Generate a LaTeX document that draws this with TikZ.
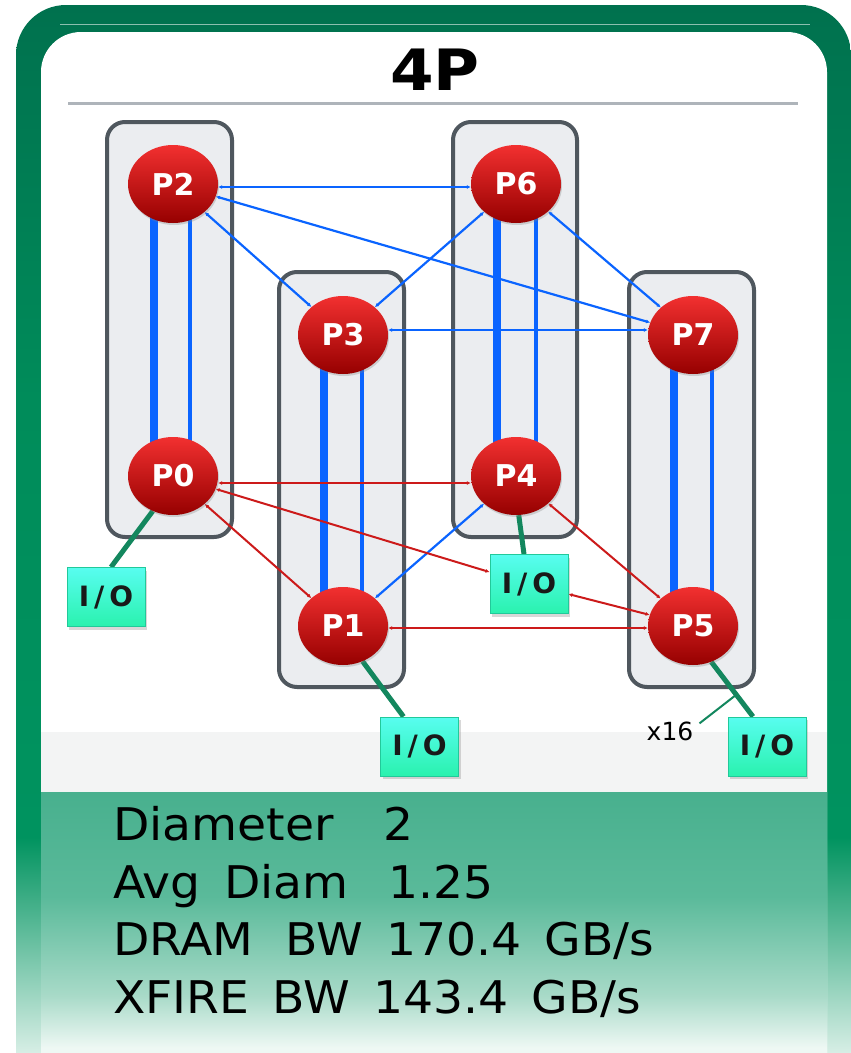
\documentclass[tikz,border=0pt]{standalone}
\usepackage{fontspec}
\setmainfont{DejaVu Sans}
\newfontfamily\statfont{DejaVu Sans}[FakeStretch=1.05, WordSpace=1.55]
\newfontfamily\titlefont{DejaVu Sans Bold}[FakeStretch=1.1]
\usetikzlibrary{shapes.geometric,arrows.meta,shadows,calc}

\definecolor{ftop}{HTML}{00714E}
\definecolor{fmid}{HTML}{008C5A}
\definecolor{fgm}{HTML}{00935F}
\definecolor{fw}{HTML}{F0F9F5}
\definecolor{bt}{HTML}{48B08E}
\definecolor{bm}{HTML}{5ABA9A}
\definecolor{bl}{HTML}{A8DAC8}
\definecolor{bw}{HTML}{EEF8F4}
\definecolor{gridgray}{HTML}{F3F4F4}
\definecolor{ruleGray}{HTML}{AEB4BA}
\definecolor{grpEdge}{HTML}{4F575E}
\definecolor{grpFill}{HTML}{EBEDF0}
\definecolor{procTop}{HTML}{F23030}
\definecolor{procBot}{HTML}{960000}
\definecolor{ioTop}{HTML}{58FDF0}
\definecolor{ioBot}{HTML}{2AF2AE}
\definecolor{ioEdge}{HTML}{22C99A}
\definecolor{ioGreen}{HTML}{13875E}
\definecolor{linkBlue}{HTML}{0A64FF}
\definecolor{linkRed}{HTML}{CC1A1A}

\pgfdeclareverticalshading{frameshade}{100bp}{color(0bp)=(fw); color(26bp)=(fw); color(37bp)=(fgm); color(57bp)=(fmid); color(75bp)=(ftop); color(100bp)=(ftop)}
\pgfdeclareverticalshading{bandshade}{100bp}{color(0bp)=(bw); color(26bp)=(bw); color(36bp)=(bl); color(55bp)=(bm); color(75bp)=(bt); color(100bp)=(bt)}

\pgfdeclarelayer{bg}
\pgfdeclarelayer{links}
\pgfsetlayers{bg,links,main}

\begin{document}
\begin{tikzpicture}[x=1pt,y=-1pt,
  proc/.style={ellipse, minimum width=90pt, minimum height=78pt, inner sep=0pt,
    top color=procTop, bottom color=procBot, text=white,
    font=\fontsize{30}{31}\selectfont\bfseries,
    drop shadow={opacity=0.3, shadow xshift=1pt, shadow yshift=-2pt}},
  iobox/.style={rectangle, minimum width=78pt, minimum height=59pt, inner sep=0pt,
    top color=ioTop, bottom color=ioBot, draw=ioEdge, line width=0.8pt,
    text=black!90, font=\fontsize{28}{29}\selectfont\bfseries,
    drop shadow={opacity=0.3, shadow xshift=2pt, shadow yshift=-3pt}},
  grp/.style={draw=grpEdge, line width=4pt, fill=grpFill, rounded corners=18pt},
  tips/.style={{Latex[length=4pt,width=4pt]}-{Latex[length=4pt,width=4pt]}},
  bluelink/.style={draw=linkBlue, line width=2.2pt, tips},
  redlink/.style={draw=linkRed, line width=2pt, tips},
  greenlink/.style={draw=ioGreen, line width=5pt},
  thickbus/.style={draw=linkBlue, line width=8pt},
  thinbus/.style={draw=linkBlue, line width=4pt},
  stat/.style={anchor=base west, inner sep=0pt, font=\fontsize{45}{54}\statfont}
]
\useasboundingbox (0,0) rectangle (851,1053);
\clip (0,0) rectangle (851,1053);

\begin{pgfonlayer}{bg}
  \path[shade, shading=frameshade, rounded corners=50pt] (16,5) rectangle (851,1100);
  \draw[white!55!ftop, line width=1pt] (60,24) -- (810,24);
  \fill[white, rounded corners=40pt] (41,32) rectangle (827,1100);
  \fill[gridgray] (41,732) rectangle (827,792);
  \path[shade, shading=bandshade] (41,792) rectangle (827,1053);
  \draw[ruleGray, line width=3pt] (68,103) -- (798,103);
  \path[grp] (107,122) rectangle (232,537);
  \path[grp] (279,272) rectangle (404,687);
  \path[grp] (453,122) rectangle (577,537);
  \path[grp] (629,272) rectangle (754,687);
\end{pgfonlayer}

\node[font=\fontsize{57}{60}\titlefont] (title) at (435,70) {4P};

\node[proc] (P2) at (173,184) {P2};
\node[proc] (P6) at (516,184) {P6};
\node[proc] (P3) at (343,335) {P3};
\node[proc] (P7) at (693,335) {P7};
\node[proc] (P0) at (173,476) {P0};
\node[proc] (P4) at (516,476) {P4};
\node[proc] (P1) at (343,626) {P1};
\node[proc] (P5) at (693,626) {P5};

\node[iobox] (io1) at (106,597) {I\kern5pt/\kern5pt O};
\node[iobox] (io4) at (529,584) {I\kern5pt/\kern5pt O};
\node[iobox] (io3) at (419.5,746.5) {I\kern5pt/\kern5pt O};
\node[iobox] (io5) at (767,746.5) {I\kern5pt/\kern5pt O};

\node[inner sep=0pt, font=\fontsize{25}{27}\selectfont] (x16) at (670,731) {x16};

\begin{pgfonlayer}{links}
  % memory-side pairs inside each group
  \draw[thickbus] ([xshift=-19pt]P2.center) -- ([xshift=-19pt]P0.center);
  \draw[thinbus]  ([xshift=17pt]P2.center) -- ([xshift=17pt]P0.center);
  \draw[thickbus] ([xshift=-19pt]P3.center) -- ([xshift=-19pt]P1.center);
  \draw[thinbus]  ([xshift=19pt]P3.center) -- ([xshift=19pt]P1.center);
  \draw[thickbus] ([xshift=-19pt]P6.center) -- ([xshift=-19pt]P4.center);
  \draw[thinbus]  ([xshift=20pt]P6.center) -- ([xshift=20pt]P4.center);
  \draw[thickbus] ([xshift=-19pt]P7.center) -- ([xshift=-19pt]P5.center);
  \draw[thinbus]  ([xshift=19pt]P7.center) -- ([xshift=19pt]P5.center);
  % blue links
  \draw[bluelink] ([yshift=-3pt]P2.east) -- ([yshift=-3pt]P6.west);
  \draw[bluelink] (P2) -- (P3);
  \draw[bluelink] (P2) -- (P7);
  \draw[bluelink] (P3) -- (P6);
  \draw[bluelink] ([yshift=5pt]P3.east) -- ([yshift=5pt]P7.west);
  \draw[bluelink] (P6) -- (P7);
  \draw[bluelink] (P4) -- (P1);
  % red links
  \draw[redlink] ([yshift=-7pt]P0.east) -- ([yshift=-7pt]P4.west);
  \draw[redlink] (P0) -- (P1);
  \draw[redlink] (P0) -- (io4);
  \draw[redlink] (P5) -- (io4);
  \draw[redlink] ([yshift=-2pt]P1.east) -- ([yshift=-2pt]P5.west);
  \draw[redlink] (P4) -- (P5);
  % I/O links
  \draw[greenlink] (P0.240) -- ([xshift=5pt]io1.north);
  \draw[greenlink] (P4.274) -- ([xshift=-5pt]io4.north);
  \draw[greenlink] (P1.299) -- ([xshift=-16pt]io3.north);
  \draw[greenlink] (P5.297) -- coordinate[pos=0.6] (x16tip) ([xshift=-14pt]io5.north);
  \draw[draw=ioGreen, line width=2pt] ([xshift=6pt,yshift=-2pt]x16.north east) -- (x16tip);
\end{pgfonlayer}

\node[stat] (s1) at (113,840) {Diameter\hspace*{50pt}2};
\node[stat] (s2) at (113,898) {Avg Diam\hspace*{40pt}1.25};
\node[stat] (s3) at (113,955) {DRAM\hspace*{32pt}BW 170.4 GB/s};
\node[stat] (s4) at (113,1013) {XFIRE BW 143.4 GB/s};
\end{tikzpicture}
\end{document}
